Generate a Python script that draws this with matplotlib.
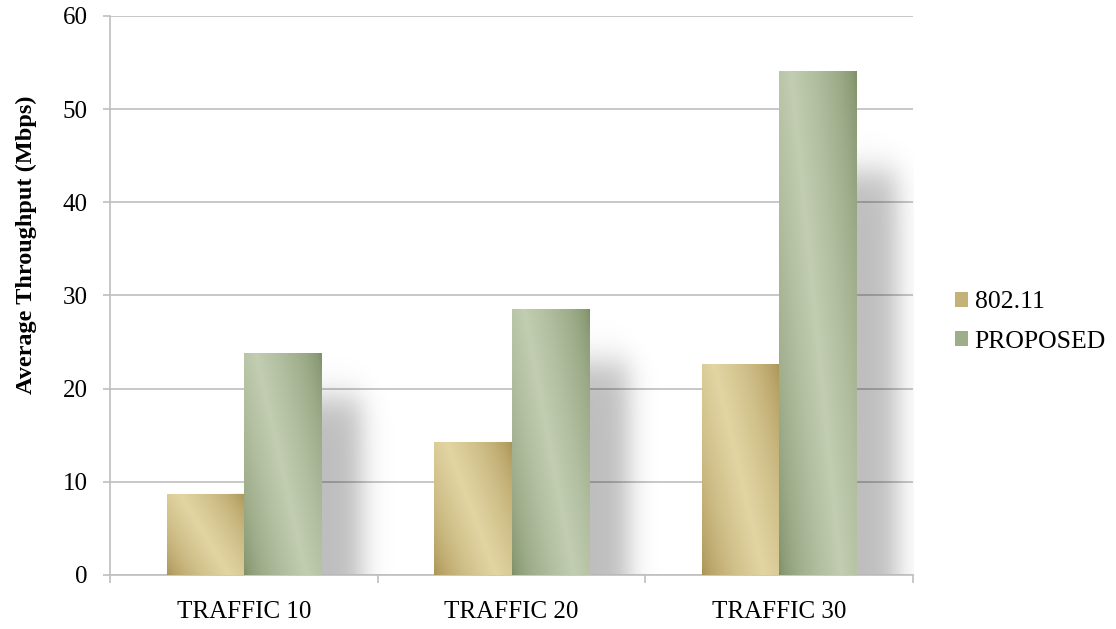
"""
Average throughput: 802.11 vs PROPOSED at three traffic loads
"""

import matplotlib.pyplot as plt
import matplotlib.colors as mcolors
from matplotlib.patches import Patch
import numpy as np

plt.rcParams['font.family'] = ['Liberation Serif', 'DejaVu Serif']

# ----- Data -----
categories = ['TRAFFIC 10', 'TRAFFIC 20', 'TRAFFIC 30']
series_names = ['802.11', 'PROPOSED']
thr_80211 = [8.7, 14.3, 22.6]
thr_proposed = [23.8, 28.5, 54.1]

# (dark, light) gradient stops for each series
gold = ('#a68e4e', '#e2d5a3')
green = ('#7b8d64', '#c2cdb1')

# ----- Plot -----
fig = plt.figure(figsize=(11.16, 6.29), dpi=100)
ax = fig.add_axes([0.0986, 0.0859, 0.7195, 0.8887])

x = np.arange(len(categories))
width = 0.288

bars_a = ax.bar(x - width / 2, thr_80211, width, facecolor='none', edgecolor='none', zorder=3)
bars_b = ax.bar(x + width / 2, thr_proposed, width, facecolor='none', edgecolor='none', zorder=3)

ax.set_xlim(-0.5, len(categories) - 0.5)
ax.set_ylim(0, 60)

# pixel size of one data unit, used for blur widths
fig_w, fig_h = fig.get_size_inches() * fig.dpi
pos = ax.get_position()
px_x = pos.width * fig_w / (len(categories))
px_y = pos.height * fig_h / 60.0


def gradient_rgb(dark, light, nx=120, ny=240):
    """Diagonal sheen: dark at the corners, light band from upper-left to lower-right."""
    u = np.linspace(0, 1, nx)[None, :]
    d = np.linspace(0, 1, ny)[:, None]          # 0 at top, 1 at bottom
    s = u - 0.65 * d
    c = 0.15
    t = np.where(s < c, (s + 0.65) / (c + 0.65), (1 - s) / (1 - c))
    t = np.clip(t, 0, 1) ** 0.6
    dk = np.array(mcolors.to_rgb(dark))
    lt = np.array(mcolors.to_rgb(light))
    return dk + (lt - dk) * t[..., None]


def soft_step(z):
    return 0.5 * (1 + np.tanh(0.9 * z))


def draw_shadow(rect):
    left, w, h = rect.get_x(), rect.get_width(), rect.get_height()
    right = left + w
    dx = 40 / px_x
    sx = 14 / px_x
    sy = 18 / px_y
    top = 0.80 * h
    x0, x1 = right - 0.05, right + 0.4
    xs = np.linspace(x0, x1, 220)[None, :]
    ys = np.linspace(h, 0, 300)[:, None]
    alpha = 0.26 * soft_step((right + dx - xs) / sx) * soft_step((xs - left - dx) / sx) \
        * soft_step((top - ys) / sy)
    img = np.zeros(alpha.shape + (4,))
    img[..., 3] = alpha
    ax.imshow(img, extent=(x0, x1, 0, h), aspect='auto', origin='upper',
              interpolation='bilinear', zorder=2)


for bars, (dark, light) in zip([bars_a, bars_b], [gold, green]):
    for rect in bars:
        draw_shadow(rect)

for bars, (dark, light) in zip([bars_a, bars_b], [gold, green]):
    for rect in bars:
        l, w, h = rect.get_x(), rect.get_width(), rect.get_height()
        im = ax.imshow(gradient_rgb(dark, light), extent=(l, l + w, 0, h),
                       aspect='auto', origin='upper', interpolation='bilinear', zorder=3)
        im.set_clip_path(rect)

ax.set_xlim(-0.5, len(categories) - 0.5)
ax.set_ylim(0, 60)

# ----- Axes styling -----
axis_grey = '#bfbfbf'
ax.set_yticks(np.arange(0, 61, 10))
ax.grid(axis='y', color=axis_grey, linewidth=1.2, zorder=0)
ax.set_axisbelow(True)
for side in ['top', 'right']:
    ax.spines[side].set_visible(False)
for side in ['left', 'bottom']:
    ax.spines[side].set_color(axis_grey)
    ax.spines[side].set_linewidth(1.2)

ax.tick_params(axis='y', direction='out', length=5, width=1.2, color=axis_grey,
               labelsize=18, pad=11, labelcolor='black')
ax.set_xticks(x)
ax.set_xticklabels(categories)
ax.set_xticks(np.arange(-0.5, len(categories), 1.0), minor=True)
ax.tick_params(axis='x', which='major', length=0, labelsize=18, pad=19)
ax.tick_params(axis='x', which='minor', direction='out', length=6, width=1.2, color=axis_grey)

ax.set_ylabel('Average Throughput (Mbps)', fontsize=17.5, fontweight='bold')
ax.yaxis.set_label_coords(-0.091, 0.59)

handles = [Patch(facecolor=mcolors.to_hex((np.array(mcolors.to_rgb(d)) + np.array(mcolors.to_rgb(l))) / 2),
                 edgecolor='none', label=n)
           for n, (d, l) in zip(series_names, [gold, green])]
fig.legend(handles=handles, loc='center left', bbox_to_anchor=(0.856, 0.488),
           frameon=False, fontsize=18.5, handlelength=0.5, handleheight=0.5,
           handletextpad=0.25, labelspacing=0.68, borderaxespad=0, borderpad=0)

plt.savefig('out.png', dpi=100)
